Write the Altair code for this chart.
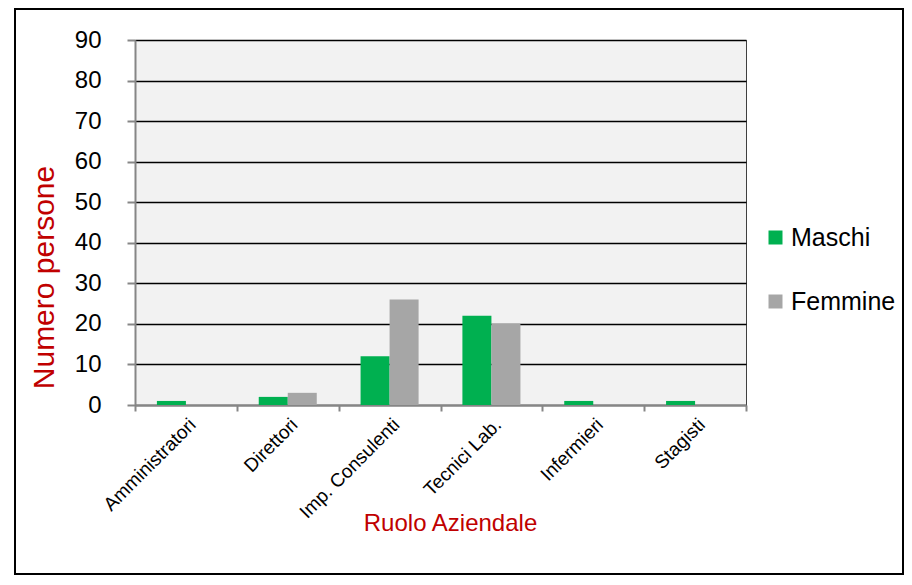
import altair as alt
import pandas as pd

categories = ["Amministratori", "Direttori", "Imp. Consulenti", "Tecnici Lab.", "Infermieri", "Stagisti"]
series = ["Maschi", "Femmine"]
maschi = [1, 2, 12, 22, 1, 1]
femmine = [0, 3, 26, 20, 0, 0]
y_ticks = [0, 10, 20, 30, 40, 50, 60, 70, 80, 90]

rows = []
for c, m, f in zip(categories, maschi, femmine):
    rows.append({"Ruolo": c, "Sesso": "Maschi", "Valore": m})
    rows.append({"Ruolo": c, "Sesso": "Femmine", "Valore": f})
df = pd.DataFrame(rows)

FONT = "Liberation Sans"

bars = alt.Chart(df).mark_bar().encode(
    x=alt.X("Ruolo:N", sort=categories,
            scale=alt.Scale(paddingInner=0, paddingOuter=0),
            axis=alt.Axis(title="Ruolo Aziendale", labelAngle=-45, labelFontSize=19,
                          labelFont=FONT, labelColor="black", labelPadding=4,
                          tickBand="extent", tickSize=6, tickColor="#868686", tickWidth=2,
                          domainColor="#868686", domainWidth=2,
                          titleColor="#C00000", titleFont=FONT, titleFontSize=24,
                          titleFontWeight="normal", titleX=315, titleY=118,
                          titleBaseline="middle", titleAlign="center")),
    xOffset=alt.XOffset("Sesso:N", sort=series,
                        scale=alt.Scale(paddingInner=0, paddingOuter=0.755)),
    y=alt.Y("Valore:Q", scale=alt.Scale(domain=[0, 90], nice=False),
            axis=alt.Axis(title="Numero  persone", values=y_ticks, labelFontSize=24,
                          labelFont=FONT, labelColor="black", labelPadding=26,
                          tickSize=8, tickColor="#868686", tickWidth=2,
                          domainColor="#868686", domainWidth=2,
                          grid=True, gridColor="black", gridWidth=1.5,
                          titleColor="#C00000", titleFont=FONT, titleFontSize=30,
                          titleFontWeight="normal", titleAngle=270, titleX=-91, titleY=237,
                          titleBaseline="middle", titleAlign="center")),
    color=alt.Color("Sesso:N", sort=series,
                    scale=alt.Scale(domain=series, range=["#00B050", "#A6A6A6"]),
                    legend=alt.Legend(title=None, orient="none", legendX=628, legendY=185,
                                      symbolType="square", symbolSize=196, symbolStrokeWidth=0,
                                      labelFontSize=25, labelFont=FONT, labelColor="black",
                                      rowPadding=38, labelOffset=3)),
)

border = alt.Chart(alt.Data(values=[{}])).mark_rect(
    fill="transparent", stroke="black", strokeWidth=2
).encode(
    x=alt.value(-120), x2=alt.value(768), y=alt.value(-31), y2=alt.value(534)
)

chart = alt.layer(bars, border).properties(
    width=611, height=365,
    autosize=alt.AutoSizeParams(type="none"),
    padding={"left": 127, "top": 32, "right": 158, "bottom": 172},
    background="white",
).configure_view(fill="#F2F2F2", stroke="#404040", strokeWidth=1)

chart.save("out.html", embed_options={"renderer": "svg", "actions": False})
